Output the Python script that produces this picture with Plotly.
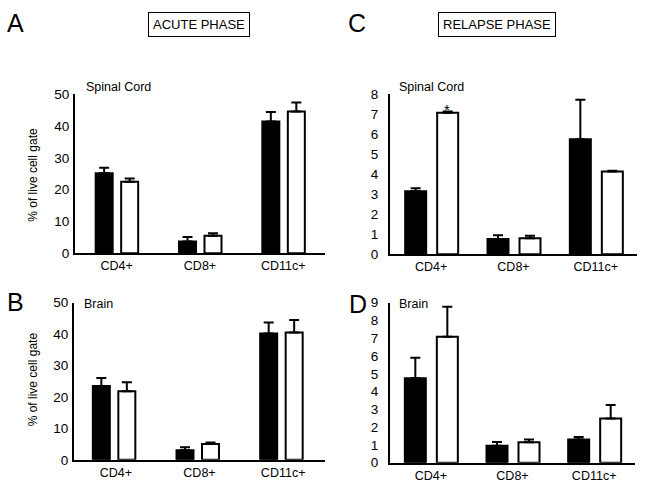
import plotly.graph_objects as go

W, H = 645, 493

categories = ["CD4+", "CD8+", "CD11c+"]

# Panel A: acute phase, spinal cord
a_black = [25.2, 3.7, 41.4]
a_black_err = [1.7, 1.4, 3.0]
a_white = [22.5, 5.5, 44.6]
a_white_err = [1.0, 0.8, 2.8]

# Panel B: acute phase, brain
b_black = [23.5, 3.0, 40.2]
b_black_err = [2.5, 1.0, 3.5]
b_white = [21.8, 5.0, 40.5]
b_white_err = [2.9, 0.5, 4.0]

# Panel C: relapse phase, spinal cord
c_black = [3.15, 0.76, 5.75]
c_black_err = [0.15, 0.19, 1.98]
c_white = [7.08, 0.80, 4.14]
c_white_err = [0.06, 0.13, 0.03]

# Panel D: relapse phase, brain
d_black = [4.75, 0.95, 1.30]
d_black_err = [1.15, 0.22, 0.14]
d_white = [7.08, 1.15, 2.49]
d_white_err = [1.69, 0.15, 0.75]

FONT = "Liberation Sans, Arial, Helvetica, sans-serif"
INK = "#000000"


def px_x(p):
    return p / W


def px_y(p):
    return 1 - p / H


# name, data..., x-domain px, y-domain px (bottom, top), ymax, dtick,
# label standoff, bar layout in px relative to category centre
panels = [
    ("", a_black, a_black_err, a_white, a_white_err, (75, 325), (254, 90), 50, 10, 1,
     dict(bl=-21, wd=17, wl=4.5)),
    ("2", b_black, b_black_err, b_white, b_white_err, (74, 325), (467, 305), 50, 10, 1,
     dict(bl=-23, wd=17, wl=2.5)),
    ("3", c_black, c_black_err, c_white, c_white_err, (390, 637), (255, 90), 8, 1, 7,
     dict(bl=-26, wd=21, wl=6)),
    ("4", d_black, d_black_err, d_white, d_white_err, (390, 635), (470, 305), 9, 1, 7,
     dict(bl=-26, wd=21, wl=6)),
]

fig = go.Figure()
layout = {}
for name, bk, bke, wh, whe, xd, yd, ymax, dt, so, bl in panels:
    xa = "x" + name
    ya = "y" + name
    catw = (xd[1] - xd[0]) / len(categories)
    common_err = dict(type="data", symmetric=False, arrayminus=[0] * len(categories),
                      color="black", thickness=2, width=5, visible=True)
    fig.add_trace(go.Bar(x=categories, y=bk, xaxis=xa, yaxis=ya,
                         offset=bl["bl"] / catw, width=bl["wd"] / catw,
                         marker=dict(color="black", line=dict(color="black", width=2)),
                         error_y=dict(array=bke, **common_err), showlegend=False))
    fig.add_trace(go.Bar(x=categories, y=wh, xaxis=xa, yaxis=ya,
                         offset=bl["wl"] / catw, width=bl["wd"] / catw,
                         marker=dict(color="white", line=dict(color="black", width=2)),
                         error_y=dict(array=whe, **common_err), showlegend=False))
    layout["xaxis" + name] = dict(domain=[px_x(xd[0]), px_x(xd[1])], anchor=ya,
                                  showline=True, linecolor="black", linewidth=2,
                                  ticks="", showgrid=False, zeroline=False,
                                  tickfont=dict(family=FONT, size=12.5, color=INK))
    layout["yaxis" + name] = dict(domain=[px_y(yd[0]), px_y(yd[1])], anchor=xa,
                                  range=[0, ymax], dtick=dt, showline=True,
                                  linecolor="black", linewidth=2, ticks="",
                                  showgrid=False, zeroline=False,
                                  ticklabelstandoff=so,
                                  tickfont=dict(family=FONT, size=13.5, color=INK))

fig.update_layout(**layout)
fig.update_layout(
    width=W, height=H,
    margin=dict(l=0, r=0, t=0, b=0),
    paper_bgcolor="white", plot_bgcolor="white",
    barmode="group",
    font=dict(family=FONT, color=INK),
)

annotations = []


def ann(text, x, y, size, xanchor="center", yanchor="middle", **kw):
    d = dict(text=text, x=px_x(x), y=px_y(y), xref="paper", yref="paper",
             xanchor=xanchor, yanchor=yanchor, showarrow=False,
             font=dict(family=FONT, size=size, color=INK))
    d.update(kw)
    annotations.append(d)


ann("A", 15, 17, 25)
ann("B", 15, 304, 25)
ann("C", 357, 17, 25)
ann("D", 358, 306, 25)
ann("ACUTE PHASE", 199, 18, 13, bordercolor="black", borderwidth=1, borderpad=4,
    bgcolor="white")
ann("RELAPSE PHASE", 497, 18, 13, bordercolor="black", borderwidth=1, borderpad=4,
    bgcolor="white")
ann("Spinal Cord", 84, 83, 12.5, xanchor="left")
ann("Brain", 82, 306, 12.5, xanchor="left")
ann("Spinal Cord", 397, 83, 12.5, xanchor="left")
ann("Brain", 397, 306, 12.5, xanchor="left")
ann("% of live cell gate", 33, 173, 12, textangle=-90)
ann("% of live cell gate", 33, 384, 12, textangle=-90)
ann("*", 447, 106, 15)

fig.update_layout(annotations=annotations)
fig.write_html(
    "out.html",
    config={"displayModeBar": False},
    post_script="document.body.style.margin='0';document.body.style.overflow='hidden';",
)
